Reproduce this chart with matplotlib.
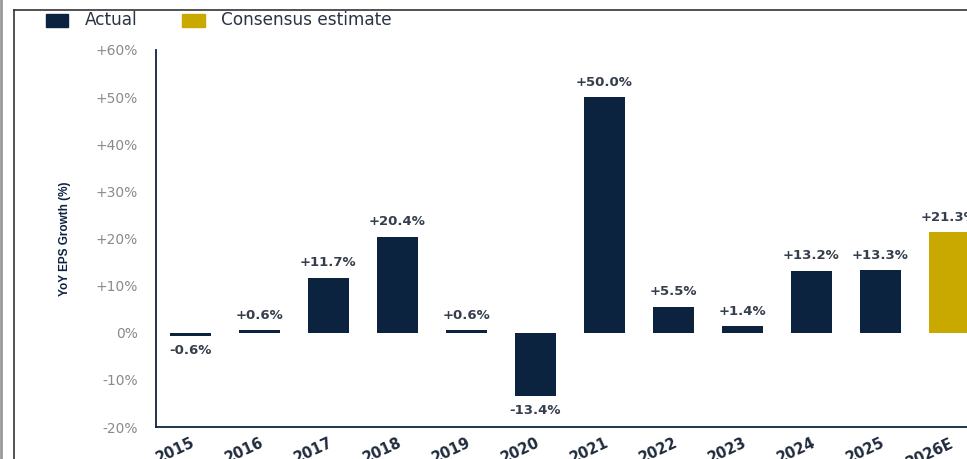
import matplotlib.pyplot as plt
from matplotlib.patches import Rectangle
from matplotlib.lines import Line2D

years = ['2015', '2016', '2017', '2018', '2019', '2020', '2021', '2022',
         '2023', '2024', '2025', '2026E']
growth = [-0.6, 0.6, 11.7, 20.4, 0.6, -13.4, 50.0, 5.5, 1.4, 13.2, 13.3, 21.3]
estimate = [False] * 11 + [True]
legend_labels = ['Actual', 'Consensus estimate']

navy = '#0c2340'
gold = '#c9a800'
colors = [gold if e else navy for e in estimate]

plt.rcParams['font.family'] = ['DejaVu Sans']

fig = plt.figure(figsize=(9.67, 4.59), dpi=100)
ax = fig.add_axes([0.1613, 0.0697, 0.856, 0.8214])

x = range(len(years))
ax.bar(x, growth, width=0.6, color=colors)

for i, v in enumerate(growth):
    label = f'{v:+.1f}%'
    up = v >= 0
    ax.annotate(label, (i, v), xytext=(0, 6 if up else -6),
                textcoords='offset points', ha='center',
                va='bottom' if up else 'top', fontsize=9.5,
                fontweight='bold', color='#353e4c')

ax.set_xlim(-0.5, 11.5)
ax.set_ylim(-20, 60)
ticks = list(range(-20, 61, 10))
ax.set_yticks(ticks)
ax.set_yticklabels([f'{t:+d}%' if t > 0 else f'{t}%' for t in ticks])
ax.tick_params(axis='y', length=0, pad=13, labelsize=10, labelcolor='#8a8a8a')
ax.set_xticks(list(x))
ax.set_xticklabels(years, rotation=25, ha='right', rotation_mode='anchor',
                   fontsize=10.5, fontweight='bold', color='#1f2a3c')
ax.tick_params(axis='x', length=0, pad=6)

for side in ['top', 'right']:
    ax.spines[side].set_visible(False)
for side in ['left', 'bottom']:
    ax.spines[side].set_color(navy)
    ax.spines[side].set_linewidth(1.3)

ax.set_ylabel('YoY EPS Growth (%)', fontsize=8.5, color=navy,
              family=['Liberation Sans Narrow', 'Liberation Sans'],
              fontweight='bold', labelpad=18)

# legend drawn by hand along the top
fig.patches.append(Rectangle((0.0476, 0.941), 0.0228, 0.029, color=navy,
                             transform=fig.transFigure, figure=fig))
fig.text(0.0879, 0.956, legend_labels[0], fontsize=12.2, color='#2a3444',
         va='center')
fig.patches.append(Rectangle((0.1882, 0.941), 0.0238, 0.029, color=gold,
                             transform=fig.transFigure, figure=fig))
fig.text(0.2285, 0.956, legend_labels[1], fontsize=12.2, color='#2a3444',
         va='center')

# frame lines along the left and top edges
fig.add_artist(Line2D([0.0145, 0.0145], [0, 0.978], color='#333333', lw=1.2,
                      transform=fig.transFigure))
fig.add_artist(Line2D([0.0145, 1.0], [0.978, 0.978], color='#333333', lw=1.2,
                      transform=fig.transFigure))
fig.add_artist(Line2D([0.001, 0.001], [0, 1], color='#999999', lw=2,
                      transform=fig.transFigure))

fig.savefig('out.png', dpi=100)
